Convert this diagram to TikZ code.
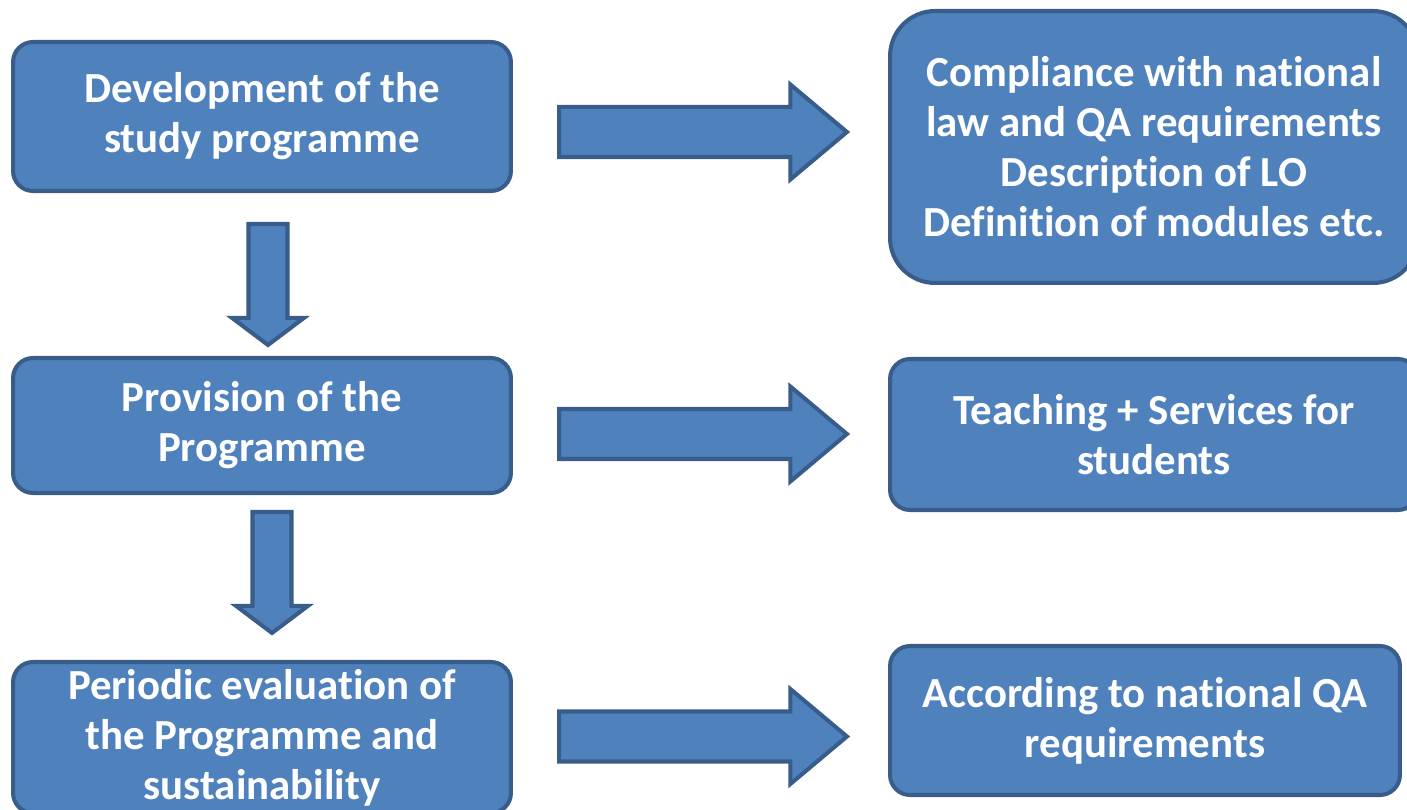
\documentclass[tikz,border=0pt]{standalone}
\usepackage[usenames,dvipsnames]{xcolor}
\usepackage{fontspec}
\setmainfont{Carlito}[RawFeature={-liga}]
\usepackage{tikz}
\usetikzlibrary{shapes.arrows}

\definecolor{boxblue}{HTML}{4F81BD}
\definecolor{boxline}{HTML}{385D8A}

\tikzset{
  stage/.style={draw=boxline, fill=boxblue, line width=2.3pt, rounded corners=0.4cm,
    text=white, font=\fontsize{24.4}{28.5}\selectfont\bfseries, align=center, inner sep=0pt},
  blockarrow/.style={single arrow, draw=boxline, fill=boxblue, line width=2.3pt, anchor=tail},
  rarrow/.style={blockarrow, inner sep=0.46cm, single arrow head extend=0.45cm,
    single arrow tip angle=80, minimum height=5.76cm},
  darrow/.style={blockarrow, shape border rotate=270, inner sep=0.35cm,
    single arrow head extend=0.33cm, single arrow tip angle=106, minimum height=2.42cm}
}

\begin{document}
\begin{tikzpicture}[x=0.02cm,y=-0.02cm]
  \clip (0,0) rectangle (1407,810);

  % left column
  \draw (262,116.5) node[stage, minimum width=9.96cm, minimum height=2.98cm] (dev) {Development of the\\study programme};
  \draw (262,425.5) node[stage, minimum width=9.96cm, minimum height=2.7cm] (prov) {Provision of the\\Programme};
  \draw (262,737.5) node[stage, minimum width=9.96cm, minimum height=3.02cm] (eval) {Periodic evaluation of\\the Programme and\\sustainability};

  % right column
  \draw (1154,147) node[stage, rounded corners=0.9cm, minimum width=10.56cm, minimum height=5.44cm] (comp) {Compliance with national\\law and QA requirements\\Description of LO\\Definition of modules etc.};
  \draw (1154,434.5) node[stage, minimum width=10.56cm, minimum height=3.02cm] (teach) {Teaching + Services for\\students};
  \draw (1145,720.5) node[stage, minimum width=10.2cm, minimum height=2.98cm] (acc) {According to national QA\\requirements};

  % block arrows
  \node[rarrow] (devcomp) at (557,132) {};
  \node[rarrow] (provteach) at (557,434) {};
  \node[rarrow] (evalacc) at (557,736.5) {};
  \node[darrow] (devprov) at (268,222) {};
  \node[darrow] (proveval) at (272,510) {};

\end{tikzpicture}
\end{document}
